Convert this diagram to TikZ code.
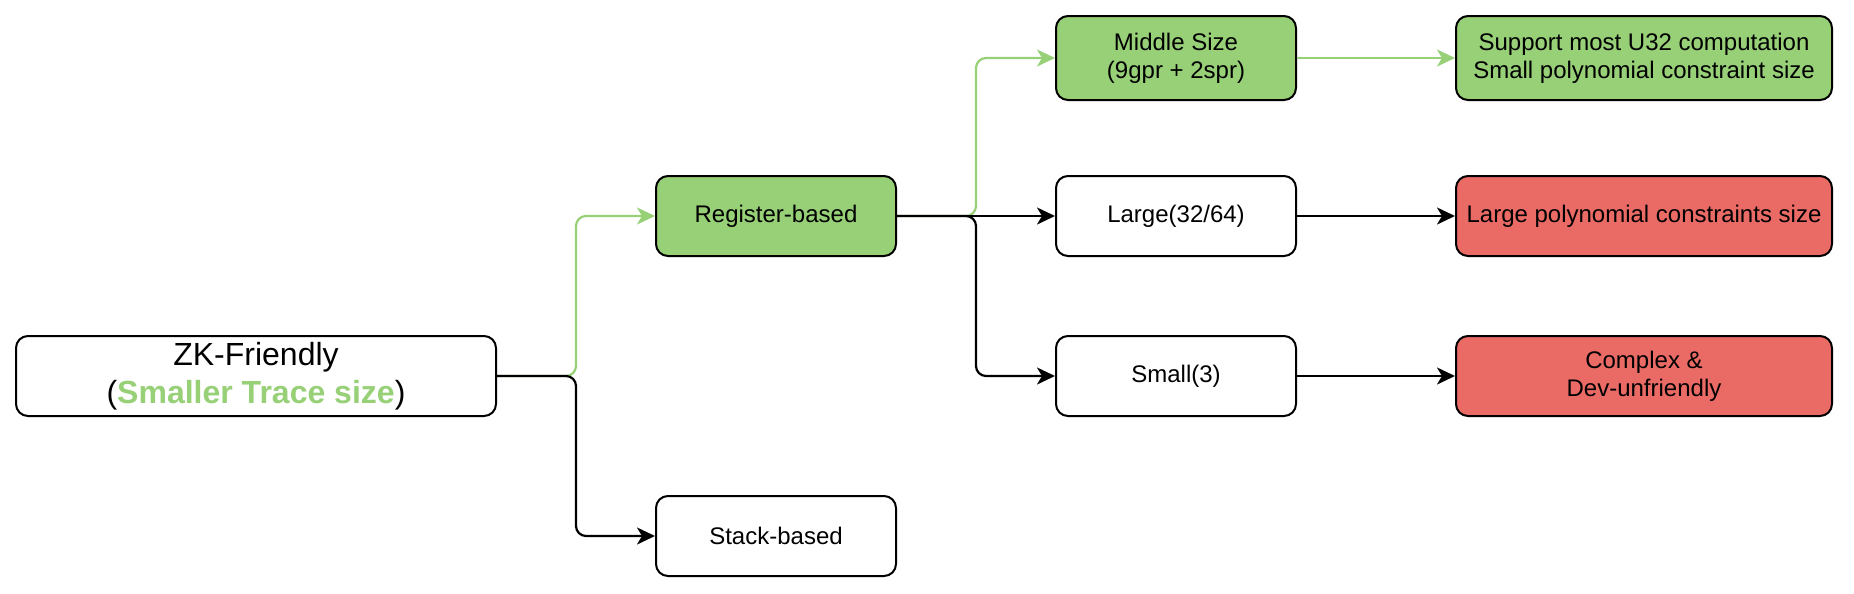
\documentclass[tikz,border=0pt]{standalone}
\usepackage{fontspec}
\setmainfont{Liberation Sans}
\usetikzlibrary{arrows.meta, positioning, calc}
\definecolor{zkgreen}{HTML}{97D077}
\definecolor{zkred}{HTML}{EA6B66}
\tikzset{
  box/.style = {draw=black, line width=1pt, rounded corners=6pt, align=center,
    inner sep=0pt, minimum height=40pt, font=\fontsize{12}{14}\selectfont},
  box_main/.style = {box, fill=white, minimum width=240pt,
    font=\fontsize{16}{19}\selectfont},% racine
  box_w/.style = {box, fill=white, minimum width=120pt},% noeud blanc
  box_g/.style = {box, fill=zkgreen, minimum width=120pt},% noeud vert
  res_g/.style = {box, fill=zkgreen, minimum width=188pt},% resultat vert
  res_r/.style = {box, fill=zkred, minimum width=188pt},% resultat rouge
  link/.style = {draw=black, line width=1.1pt, rounded corners=5pt,
    -{Stealth[length=9pt,width=8.5pt,inset=2.5pt]}},
  link_g/.style = {link, draw=zkgreen, fill=none}
}
\begin{document}
\begin{tikzpicture}[x=1pt, y=-1pt]
\useasboundingbox (0,0) rectangle (927,297);
% niveau 0
\node [box_main] (zk) at (128,188)
  {ZK-Friendly\\(\textcolor{zkgreen}{\textbf{Smaller Trace size}})};
% niveau 1
\node [box_g] (reg) at (388,108) {Register-based};
\node [box_w] (stack) at (388,268) {Stack-based};
% niveau 2
\node [box_g, minimum height=42pt] (mid) at (588,29) {Middle Size\\(9gpr + 2spr)};
\node [box_w] (large) at (588,108) {Large(32/64)};
\node [box_w] (small) at (588,188) {Small(3)};
% niveau 3
\node [res_g, minimum height=42pt] (supp) at (822,29)
  {Support most U32 computation\\Small polynomial constraint size};
\node [res_r] (lpoly) at (822,108) {Large polynomial constraints size};
\node [res_r] (cplx) at (822,188) {Complex \&\\Dev-unfriendly};
% points de branchement
\coordinate (j1) at (288,188);
\coordinate (j2) at (488,108);
% aretes vertes d'abord
\draw [link_g] (zk.east) -- (j1) |- (reg.west);
\draw [link_g] (reg.east) -- (j2) |- (mid.west);
\draw [link_g] (mid) -- (supp);
% aretes noires
\draw [link] (zk.east) -- (j1) |- (stack.west);
\draw [link] (reg.east) -- (large.west);
\draw [link] (reg.east) -- (j2) |- (small.west);
\draw [link] (large) -- (lpoly);
\draw [link] (small) -- (cplx);
\end{tikzpicture}
\end{document}
